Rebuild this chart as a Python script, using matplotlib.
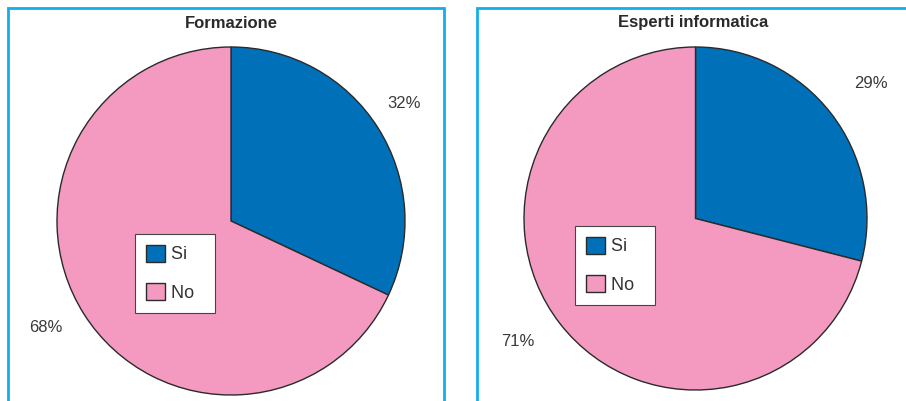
import matplotlib
matplotlib.use("Agg")
from matplotlib import pyplot as plt
from matplotlib.patches import Rectangle, Patch

plt.rcParams["font.family"] = ["Liberation Sans", "DejaVu Sans"]

# data
titles = ["Formazione", "Esperti informatica"]
labels = ["Si", "No"]
formazione = [32, 68]
esperti = [29, 71]

BLUE = "#0070b8"
PINK = "#f49ac1"
FRAME = "#14aee8"
TEXT = "#333333"

W, H = 906, 401
fig = plt.figure(figsize=(W / 100, H / 100), dpi=100)
ax = fig.add_axes([0, 0, 1, 1])


def py(y):
    # pixel row (from top) -> data y
    return H - y


panels = [
    # values, pie centre, radius, frame x range, title x, legend top-left, label spots
    (formazione, (231, 221), 174, (8, 444), 231, (135, 234), [(404, 104), (46, 327)]),
    (esperti, (695.5, 218.5), 171.5, (477, 930), 693, (575, 226), [(871, 84), (518, 341)]),
]

for (vals, (cx, cy), r, (fx0, fx1), tx, (lx, ly), spots), title in zip(panels, titles):
    _, _, pcts = ax.pie(
        vals,
        colors=[BLUE, PINK],
        startangle=90,
        counterclock=False,
        center=(cx, py(cy)),
        radius=r,
        autopct="%d%%",
        wedgeprops=dict(edgecolor="#2a2a2a", linewidth=1.0),
        textprops=dict(fontsize=12, color="#3a3a3a"),
    )
    for t, (sx, sy) in zip(pcts, spots):
        t.set_position((sx, py(sy)))
    ax.add_patch(
        Rectangle((fx0, py(420)), fx1 - fx0, 420 - 8,
                  fill=False, edgecolor=FRAME, linewidth=2.0, clip_on=False)
    )
    ax.text(tx, py(23), title, ha="center", va="center",
            fontsize=12, fontweight="bold", color="#2a2a2a")
    handles = [Patch(facecolor=c, edgecolor="#2a2a2a", linewidth=1.0) for c in (BLUE, PINK)]
    leg = fig.legend(
        handles, [l + "  " for l in labels],
        loc="upper left",
        bbox_to_anchor=(lx / W, 1 - ly / H),
        bbox_transform=fig.transFigure,
        borderaxespad=0,
        fontsize=13,
        handlelength=1.05,
        handleheight=1.05,
        handletextpad=0.35,
        labelspacing=1.1,
        borderpad=0.6,
        fancybox=False,
        framealpha=1,
        edgecolor="#444444",
    )
    leg.get_frame().set_linewidth(0.8)
    for t in leg.get_texts():
        t.set_color(TEXT)

ax.set_xlim(0, W)
ax.set_ylim(0, H)
ax.set_aspect("auto")
ax.axis("off")

plt.savefig("out.png", dpi=100)
